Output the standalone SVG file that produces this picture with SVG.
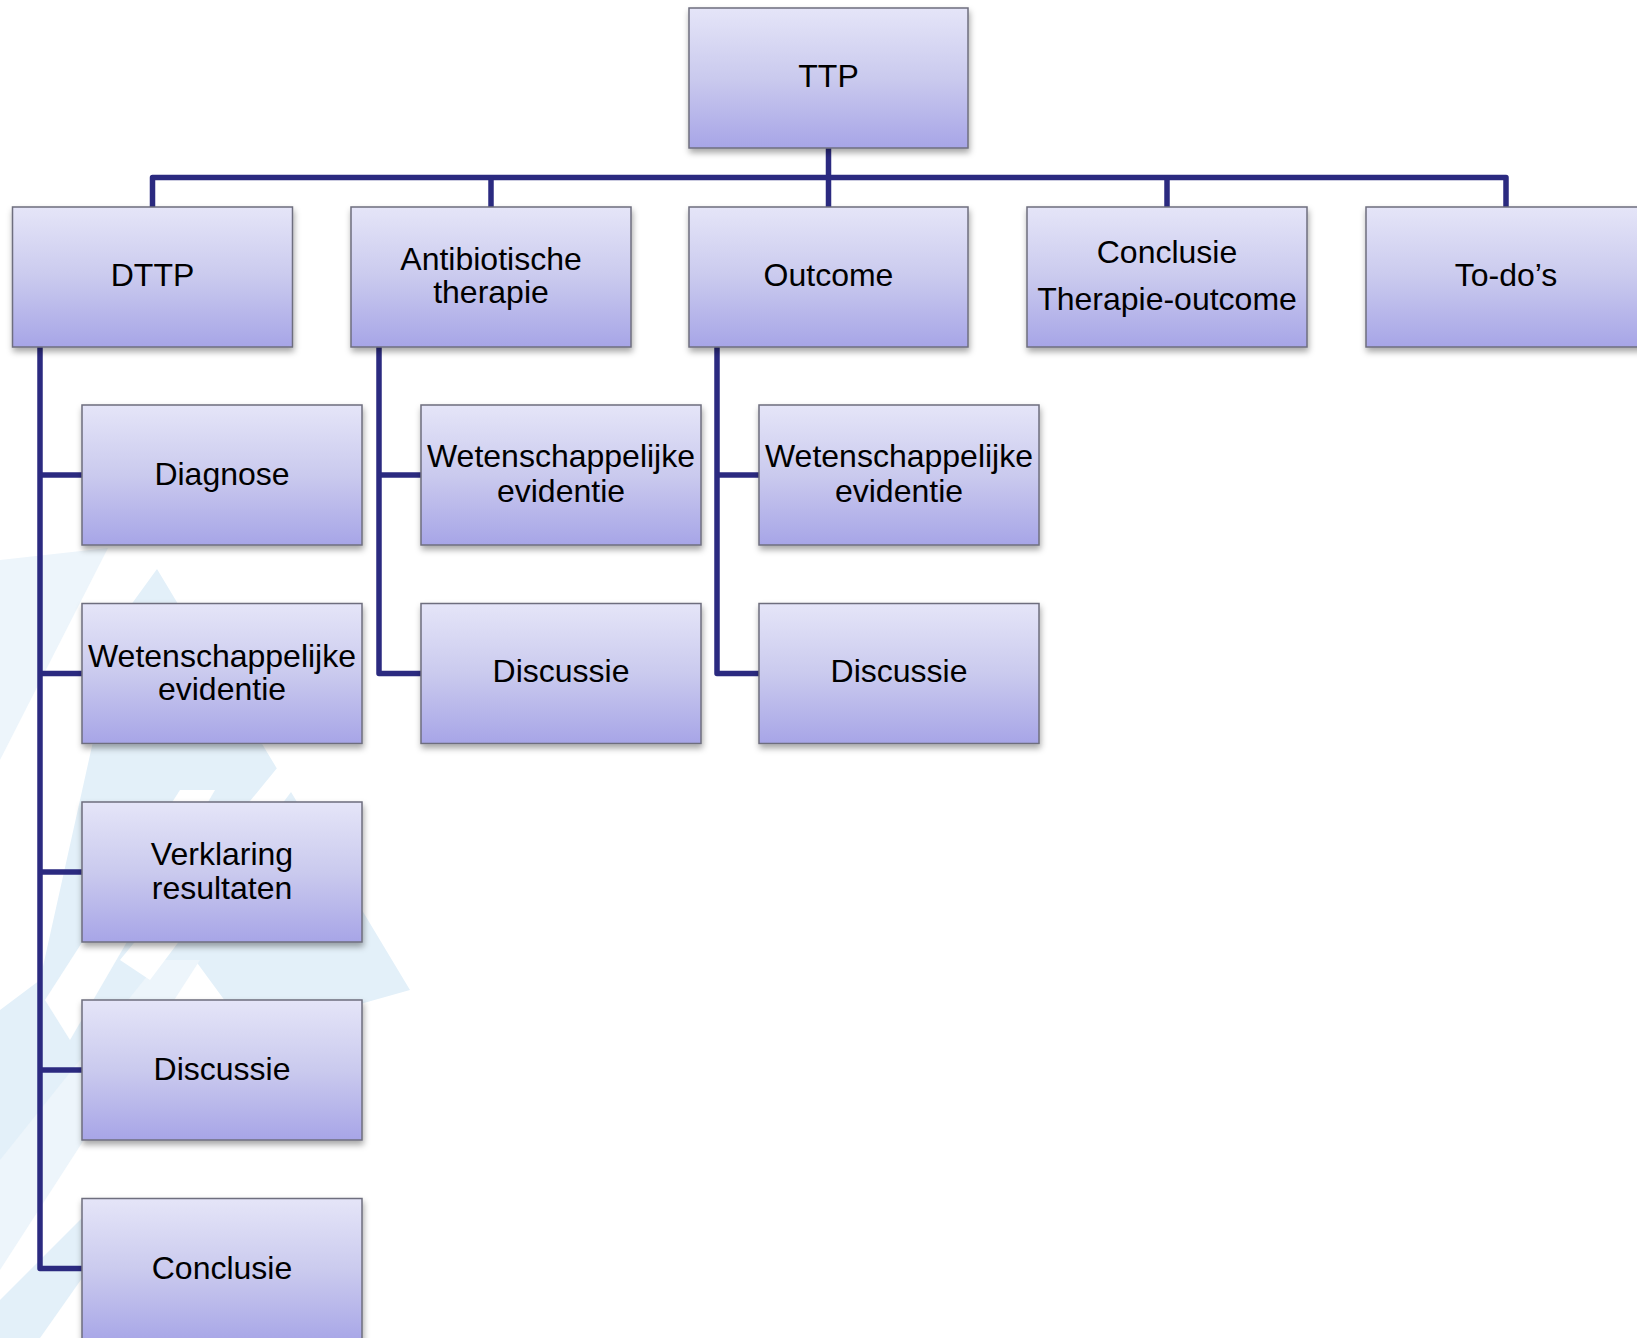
<svg xmlns="http://www.w3.org/2000/svg" width="1637" height="1338" viewBox="0 0 1637 1338">
<defs>
<linearGradient id="g" x1="0" y1="0" x2="0" y2="1">
<stop offset="0" stop-color="#E5E5F8"/>
<stop offset="0.5" stop-color="#CACAEE"/>
<stop offset="1" stop-color="#A7A5E7"/>
</linearGradient>
<filter id="sh" x="-10%" y="-10%" width="120%" height="130%">
<feDropShadow dx="1" dy="4" stdDeviation="3" flood-color="#000" flood-opacity="0.35"/>
</filter>
<style>
.box{fill:url(#g);stroke:#6E6E7E;stroke-width:1.5;filter:url(#sh)}
.t{font-family:"Liberation Sans",Arial,sans-serif;font-size:32px;fill:#000;text-anchor:middle;dominant-baseline:central}
.c{fill:none;stroke:#2B2A80;stroke-width:5.5;stroke-linejoin:round;stroke-linecap:butt}
.bg1{fill:#E3F0F9}
.bg2{fill:#EDF5FB}
</style>
</defs>
<rect width="1637" height="1338" fill="#FFFFFF"/>
<g id="background">
<polygon class="bg2" points="0,560 108,548 0,760"/>
<polygon class="bg1" points="157,569 410,990 250,1035 195,960 60,1140 0,1210 0,1010 40,980 120,620"/>
<polygon class="bg2" points="0,1160 160,960 200,960 0,1270"/>
<polygon class="bg1" points="0,1338 0,1300 90,1210 130,1210 40,1338"/>
<polygon fill="#FFFFFF" points="45,1000 180,790 215,790 70,1040"/>
<polygon fill="#FFFFFF" points="120,960 300,740 330,740 150,980"/>
</g>
<g id="connectors">
<path class="c" d="M828.5,148 V207"/>
<path class="c" d="M152.5,207 V177.5 H1506 V207"/>
<path class="c" d="M491,177.5 V207"/>
<path class="c" d="M1167,177.5 V207"/>
<path class="c" d="M40,347 V1268.5 H82"/>
<path class="c" d="M40,475 H82"/>
<path class="c" d="M40,673.5 H82"/>
<path class="c" d="M40,872 H82"/>
<path class="c" d="M40,1070 H82"/>
<path class="c" d="M379,347 V673.5 H421"/>
<path class="c" d="M379,475 H421"/>
<path class="c" d="M717,347 V673.5 H759"/>
<path class="c" d="M717,475 H759"/>
</g>
<g id="n-ttp"><rect class="box" x="689" y="8" width="279" height="140"/><text class="t" x="828.5" y="76">TTP</text></g>
<g id="n-dttp"><rect class="box" x="12.5" y="207" width="280" height="140"/><text class="t" x="152.5" y="274.5">DTTP</text></g>
<g id="n-antibiotische"><rect class="box" x="351" y="207" width="280" height="140"/><text class="t" x="491" y="259">Antibiotische</text><text class="t" x="491" y="292">therapie</text></g>
<g id="n-outcome"><rect class="box" x="689" y="207" width="279" height="140"/><text class="t" x="828.5" y="274.5">Outcome</text></g>
<g id="n-conclusie-top"><rect class="box" x="1027" y="207" width="280" height="140"/><text class="t" x="1167" y="251.5">Conclusie</text><text class="t" x="1167" y="298.5">Therapie-outcome</text></g>
<g id="n-todos"><rect class="box" x="1366" y="207" width="280" height="140"/><text class="t" x="1506" y="274.5">To-do’s</text></g>
<g id="n-diagnose"><rect class="box" x="82" y="405" width="280" height="140"/><text class="t" x="222" y="474">Diagnose</text></g>
<g id="n-wet1"><rect class="box" x="82" y="603.5" width="280" height="140"/><text class="t" x="222" y="655.5">Wetenschappelijke</text><text class="t" x="222" y="689">evidentie</text></g>
<g id="n-verklaring"><rect class="box" x="82" y="802" width="280" height="140"/><text class="t" x="222" y="854">Verklaring</text><text class="t" x="222" y="887.5">resultaten</text></g>
<g id="n-discussie1"><rect class="box" x="82" y="1000" width="280" height="140"/><text class="t" x="222" y="1069">Discussie</text></g>
<g id="n-conclusie1"><rect class="box" x="82" y="1198.5" width="280" height="145"/><text class="t" x="222" y="1267.5">Conclusie</text></g>
<g id="n-wet2"><rect class="box" x="421" y="405" width="280" height="140"/><text class="t" x="561" y="456">Wetenschappelijke</text><text class="t" x="561" y="490.5">evidentie</text></g>
<g id="n-discussie2"><rect class="box" x="421" y="603.5" width="280" height="140"/><text class="t" x="561" y="671">Discussie</text></g>
<g id="n-wet3"><rect class="box" x="759" y="405" width="280" height="140"/><text class="t" x="899" y="456">Wetenschappelijke</text><text class="t" x="899" y="490.5">evidentie</text></g>
<g id="n-discussie3"><rect class="box" x="759" y="603.5" width="280" height="140"/><text class="t" x="899" y="671">Discussie</text></g>
</svg>
